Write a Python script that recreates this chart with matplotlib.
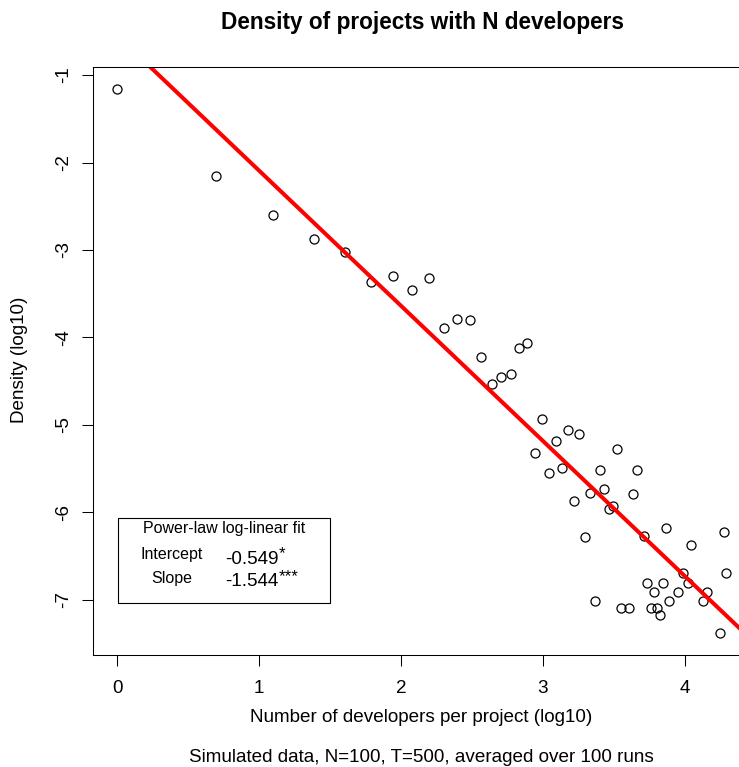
import numpy as np
import matplotlib
matplotlib.use("Agg")
import matplotlib.pyplot as plt
from matplotlib.patches import Rectangle

# developers per project (log scale) and density of projects (log10)
log_devs = [0.000, 0.693, 1.099, 1.386, 1.609, 1.792, 1.946, 2.079, 2.197, 2.303,
            2.398, 2.485, 2.565, 2.639, 2.708, 2.773, 2.833, 2.890, 2.944, 2.996,
            3.045, 3.091, 3.135, 3.178, 3.219, 3.258, 3.296, 3.332, 3.367, 3.401,
            3.434, 3.466, 3.497, 3.526, 3.555, 3.611, 3.638, 3.664, 3.714, 3.738,
            3.761, 3.784, 3.807, 3.829, 3.850, 3.871, 3.892, 3.951, 3.989, 4.025,
            4.043, 4.127, 4.159, 4.248, 4.277, 4.290]
log_density = [-1.157, -2.153, -2.599, -2.878, -3.023, -3.366, -3.301, -3.461, -3.317, -3.896,
               -3.790, -3.801, -4.222, -4.537, -4.454, -4.420, -4.118, -4.061, -5.316, -4.935,
               -5.553, -5.183, -5.492, -5.053, -5.873, -5.107, -6.282, -5.778, -7.007, -5.519,
               -5.728, -5.962, -5.931, -5.270, -7.095, -7.095, -5.790, -5.519, -6.266, -6.804,
               -7.095, -6.912, -7.095, -7.171, -6.804, -6.179, -7.007, -6.912, -6.690, -6.804,
               -6.374, -7.007, -6.912, -7.381, -6.220, -6.690]

fit_intercept = -0.549
fit_slope = -1.544
intercept_stars = "*"
slope_stars = "***"

xticks = [0, 1, 2, 3, 4]
yticks = [-1, -2, -3, -4, -5, -6, -7]

plt.rcParams["font.family"] = "Liberation Sans"
base = 13.6

W, H = 739, 767
fig = plt.figure(figsize=(W / 100, H / 100), dpi=100)


def fx(px):
    return px / W


def fy(py):
    return 1 - py / H


ax = fig.add_axes([fx(93), fy(655), fx(750) - fx(93), fy(67) - fy(655)])

x = np.array(log_devs)
y = np.array(log_density)

# 4% padding on both axes, like R's default
xpad = 0.04 * (x.max() - x.min())
ypad = 0.04 * (y.max() - y.min())
x0, x1 = x.min() - xpad, x.max() + xpad
y0, y1 = y.min() - ypad, y.max() + ypad

ax.plot(x, y, linestyle="none", marker="o", markersize=6.5,
        markerfacecolor="none", markeredgecolor="black", markeredgewidth=0.9)

xs = np.array([x0, x1])
ax.plot(xs, fit_intercept + fit_slope * xs, color="red", linewidth=2.9)

ax.set_xlim(x0, x1)
ax.set_ylim(y0, y1)
ax.set_xticks(xticks)
ax.set_yticks(yticks)
ax.set_xticklabels([str(t) for t in xticks])
ax.set_yticklabels([str(t) for t in yticks], rotation=90, va="center")
ax.tick_params(direction="out", length=8, width=0.75, labelsize=base, pad=7)
ax.tick_params(axis="x", pad=10)
for s in ax.spines.values():
    s.set_linewidth(0.75)

fig.text(fx(422), fy(22), "Density of projects with N developers",
         ha="center", va="center", fontsize=base * 1.2, fontweight="bold")
fig.text(fx(421), fy(717), "Number of developers per project (log10)",
         ha="center", va="center", fontsize=base)
fig.text(fx(421), fy(758), "Simulated data, N=100, T=500, averaged over 100 runs",
         ha="center", va="center", fontsize=base)
fig.text(fx(20), fy(360), "Density (log10)", ha="center", va="center",
         rotation=90, fontsize=base)

# fit summary box
fig.add_artist(Rectangle((fx(118), fy(603)), fx(330) - fx(118), fy(518) - fy(603),
                         transform=fig.transFigure, fill=False,
                         edgecolor="black", linewidth=0.8))
small = base * 0.85
fig.text(fx(224), fy(529), "Power-law log-linear fit", ha="center", va="center",
         fontsize=small)
fig.text(fx(172), fy(554), "Intercept", ha="center", va="center", fontsize=small)
fig.text(fx(172), fy(578), "Slope", ha="center", va="center", fontsize=small)

rows = [(fit_intercept, intercept_stars, 559), (fit_slope, slope_stars, 582)]
for value, stars, py in rows:
    num = fig.text(fx(225), fy(py), f"{value:.3f}", ha="left", va="center",
                   fontsize=base)
    ax.annotate(stars, xy=(1, 1), xycoords=num, xytext=(0.3, -2.5),
                textcoords="offset points", ha="left", va="center",
                fontsize=base * 0.9, annotation_clip=False)

fig.savefig("out.png", dpi=100)
